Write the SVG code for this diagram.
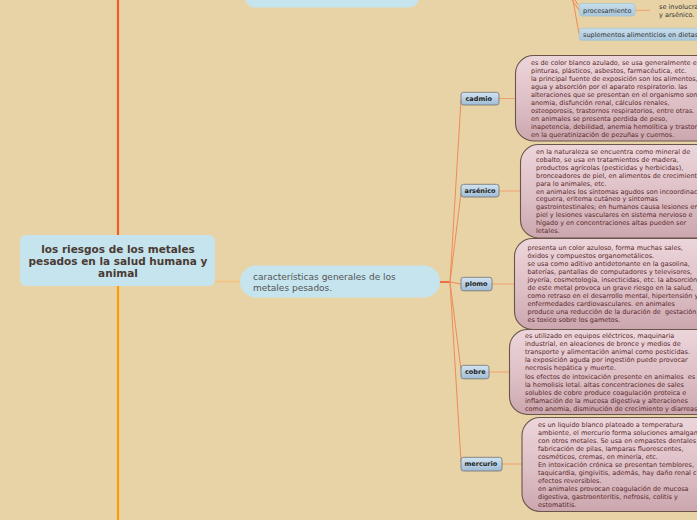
<svg xmlns="http://www.w3.org/2000/svg" width="697" height="520" viewBox="0 0 697 520">
<style>
.bg{fill:#e8d3a6}
.title{font-family:"DejaVu Sans",Verdana,sans-serif;font-weight:bold;font-size:10.5px;fill:#4a3a33;text-anchor:middle}
.sub{font-family:"DejaVu Sans",Verdana,sans-serif;font-size:9px;fill:#555555}
.lbl{font-family:"DejaVu Sans",Verdana,sans-serif;font-weight:bold;font-size:6.5px;fill:#222222}
.body{font-family:"DejaVu Sans",Verdana,sans-serif;font-size:6.5px;fill:#5a2a2a;white-space:pre}
.small{font-family:"DejaVu Sans",Verdana,sans-serif;font-size:6.5px;fill:#333333}
.blue{fill:#c5e4ee}
.lbox{fill:url(#lg);stroke:#707070;stroke-width:0.8}
.sbox{fill:url(#lg2);stroke:#a6c6cf;stroke-width:0.8}
.cbox{fill:url(#pg);stroke:#6a5549;stroke-width:1.1}
.fan{stroke:#ee8a5a;stroke-width:1;fill:none}
.link{stroke:#f0a070;stroke-width:1;fill:none}
</style>
<defs>
<linearGradient id="lg" x1="0" y1="0" x2="0" y2="1"><stop offset="0" stop-color="#d2e3f0"/><stop offset="1" stop-color="#9fbdd6"/></linearGradient>
<linearGradient id="lg2" x1="0" y1="0" x2="0" y2="1"><stop offset="0" stop-color="#c8deec"/><stop offset="1" stop-color="#a9c7dc"/></linearGradient>
<linearGradient id="pg" x1="0" y1="0" x2="0" y2="1"><stop offset="0" stop-color="#ecd6db"/><stop offset="0.6" stop-color="#dcbdc4"/><stop offset="1" stop-color="#cba6ae"/></linearGradient>
</defs>
<rect class="bg" x="0" y="0" width="697" height="520"/>

<g id="connectors">
<line x1="118" y1="0" x2="118" y2="236" stroke="#ee5a28" stroke-width="2.2"/>
<line x1="118" y1="285" x2="118" y2="520" stroke="#ff9a00" stroke-width="2.2"/>
<line x1="215" y1="281.5" x2="241" y2="281.5" stroke="#f5c27e" stroke-width="1.5"/>
<line x1="439" y1="282" x2="450" y2="282" stroke="#e8572a" stroke-width="1.6"/>
<path class="fan" d="M450,282 L461,100"/>
<path class="fan" d="M450,282 L461,193"/>
<path class="fan" d="M450,282 L461,284"/>
<path class="fan" d="M450,282 L461,370"/>
<path class="fan" d="M450,282 L461,462"/>
<line class="link" x1="499" y1="98.5" x2="516" y2="98.5"/>
<line class="link" x1="499" y1="191" x2="521" y2="191"/>
<line class="link" x1="492" y1="284" x2="515" y2="284"/>
<line class="link" x1="489" y1="372" x2="510" y2="372"/>
<line class="link" x1="502" y1="464" x2="522" y2="464"/>
<path class="fan" d="M575,0 L578,5"/>
<path class="fan" d="M572,0 L579,10"/>
<path class="fan" d="M573,0 L579,34"/>
<line class="link" x1="635" y1="10.3" x2="650" y2="10.3"/>
</g>

<g id="top-node">
<rect class="blue" x="245" y="-20" width="174" height="27.5" rx="10"/>
</g>

<g id="main">
<rect class="blue" x="20" y="235" width="195" height="51" rx="6"/>
<text class="title" x="118" y="252.5">los riesgos de los metales</text>
<text class="title" x="118" y="264.5">pesados en la salud humana y</text>
<text class="title" x="118" y="276.5">animal</text>
</g>

<g id="caracteristicas">
<rect class="blue" x="240" y="265.5" width="200" height="32" rx="16"/>
<text class="sub" x="253" y="279.8">características generales de los</text>
<text class="sub" x="253" y="290.8">metales pesados.</text>
</g>

<g id="procesamiento">
<rect class="sbox" x="579.3" y="3.5" width="55.7" height="12.5" rx="2.5"/>
<text class="small" x="583" y="12.5">procesamiento</text>
<text class="small" x="659" y="8.5">se involucra</text>
<text class="small" x="659" y="16.5">y arsénico.</text>
</g>

<g id="suplementos">
<rect class="sbox" x="579.3" y="28.3" width="130" height="12" rx="2.5"/>
<text class="small" x="583" y="36.7">suplementos alimenticios en dietas</text>
</g>

<g id="cadmio">
<rect class="lbox" x="461" y="92.3" width="38" height="12.7" rx="2.5"/>
<text class="lbl" x="465.5" y="100.8">cadmio</text>
</g>
<g id="cadmio-info">
<rect class="cbox" x="515.5" y="55.5" width="220" height="85.5" rx="18"/>
<text class="body" x="531" y="65"><tspan x="531" dy="0">es de color blanco azulado, se usa generalmente e</tspan><tspan x="531" dy="7.95">pinturas, plásticos, asbestos, farmacéutica, etc.</tspan><tspan x="531" dy="7.95">la principal fuente de exposición son los alimentos,</tspan><tspan x="531" dy="7.95">agua y absorción por el aparato respiratorio. las</tspan><tspan x="531" dy="7.95">alteraciones que se presentan en el organismo son</tspan><tspan x="531" dy="7.95">anemia, disfunción renal, cálculos renales,</tspan><tspan x="531" dy="7.95">osteoporosis, trastornos respiratorios, entre otras.</tspan><tspan x="531" dy="7.95">en animales se presenta perdida de peso,</tspan><tspan x="531" dy="7.95">inapetencia, debilidad, anemia hemolítica y trastor</tspan><tspan x="531" dy="7.95">en la queratinización de pezuñas y cuernos.</tspan></text>
</g>

<g id="arsenico">
<rect class="lbox" x="461" y="184.3" width="38" height="12.7" rx="2.5"/>
<text class="lbl" x="464.5" y="192.8">arsénico</text>
</g>
<g id="arsenico-info">
<rect class="cbox" x="520.5" y="144.5" width="220" height="93.5" rx="18"/>
<text class="body" x="536" y="154"><tspan x="536" dy="0">en la naturaleza se encuentra como mineral de</tspan><tspan x="536" dy="7.9">cobalto, se usa en tratamientos de madera,</tspan><tspan x="536" dy="7.9">productos agrícolas (pesticidas y herbicidas),</tspan><tspan x="536" dy="7.9">bronceadores de piel, en alimentos de crecimient</tspan><tspan x="536" dy="7.9">para lo animales, etc.</tspan><tspan x="536" dy="7.9">en animales los síntomas agudos son incoordinac</tspan><tspan x="536" dy="7.9">ceguera, eritema cutáneo y síntomas</tspan><tspan x="536" dy="7.9">gastrointestinales; en humanos causa lesiones en</tspan><tspan x="536" dy="7.9">piel y lesiones vasculares en sistema nervioso e</tspan><tspan x="536" dy="7.9">hígado y en concentraciones altas pueden ser</tspan><tspan x="536" dy="7.9">letales.</tspan></text>
</g>

<g id="plomo">
<rect class="lbox" x="461" y="277.3" width="31" height="13.5" rx="2.5"/>
<text class="lbl" x="465" y="286.3">plomo</text>
</g>
<g id="plomo-info">
<rect class="cbox" x="514.5" y="238.5" width="220" height="91" rx="18"/>
<text class="body" x="527.5" y="250"><tspan x="527.5" dy="0">presenta un color azuloso, forma muchas sales,</tspan><tspan x="527.5" dy="8">óxidos y compuestos organometálicos.</tspan><tspan x="527.5" dy="8">se usa como aditivo antidetonante en la gasolina,</tspan><tspan x="527.5" dy="8">baterías, pantallas de computadores y televisores,</tspan><tspan x="527.5" dy="8">joyería, cosmetología, insecticidas, etc. la absorción</tspan><tspan x="527.5" dy="8">de este metal provoca un grave riesgo en la salud,</tspan><tspan x="527.5" dy="8">como retraso en el desarrollo mental, hipertensión y</tspan><tspan x="527.5" dy="8">enfermedades cardiovasculares. en animales</tspan><tspan x="527.5" dy="8">produce una reducción de la duración de  gestación,</tspan><tspan x="527.5" dy="8">es toxico sobre los gametos.</tspan></text>
</g>

<g id="cobre">
<rect class="lbox" x="461" y="365.3" width="28" height="13.5" rx="2.5"/>
<text class="lbl" x="465" y="374.3">cobre</text>
</g>
<g id="cobre-info">
<rect class="cbox" x="509.5" y="329.5" width="220" height="85" rx="18"/>
<text class="body" x="525" y="338"><tspan x="525" dy="0">es utilizado en equipos eléctricos, maquinaria</tspan><tspan x="525" dy="8.1">industrial, en aleaciones de bronce y medios de</tspan><tspan x="525" dy="8.1">transporte y alimentación animal como pesticidas.</tspan><tspan x="525" dy="8.1">la exposición aguda por ingestión puede provocar</tspan><tspan x="525" dy="8.1">necrosis hepática y muerte.</tspan><tspan x="525" dy="8.1">los efectos de intoxicación presente en animales  es</tspan><tspan x="525" dy="8.1">la hemolisis letal. altas concentraciones de sales</tspan><tspan x="525" dy="8.1">solubles de cobre produce coagulación proteica e</tspan><tspan x="525" dy="8.1">inflamación de la mucosa digestiva y alteraciones</tspan><tspan x="525" dy="8.1">como anemia, disminución de crecimiento y diarreas</tspan></text>
</g>

<g id="mercurio">
<rect class="lbox" x="461" y="457.3" width="41" height="13.7" rx="2.5"/>
<text class="lbl" x="464.5" y="466.3">mercurio</text>
</g>
<g id="mercurio-info">
<rect class="cbox" x="522" y="417.5" width="220" height="94" rx="18"/>
<text class="body" x="538" y="427"><tspan x="538" dy="0">es un liquido blanco plateado a temperatura</tspan><tspan x="538" dy="8">ambiente, el mercurio forma soluciones amalgam</tspan><tspan x="538" dy="8">con otros metales. Se usa en empastes dentales</tspan><tspan x="538" dy="8">fabricación de pilas, lamparas fluorescentes,</tspan><tspan x="538" dy="8">cosméticos, cremas, en minería, etc.</tspan><tspan x="538" dy="8">En intoxicación crónica se presentan temblores,</tspan><tspan x="538" dy="8">taquicardia, gingivitis, además, hay daño renal c</tspan><tspan x="538" dy="8">efectos reversibles.</tspan><tspan x="538" dy="8">en animales provocan coagulación de mucosa</tspan><tspan x="538" dy="8">digestiva, gastroenteritis, nefrosis, colitis y</tspan><tspan x="538" dy="8">estomatitis.</tspan></text>
</g>
</svg>
